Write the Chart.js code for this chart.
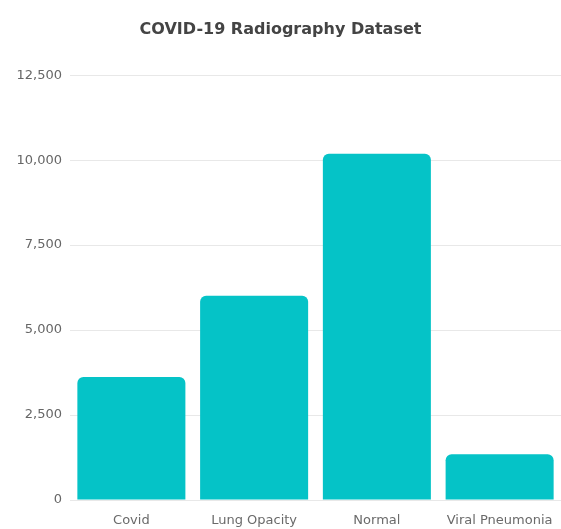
<!DOCTYPE html>
<html>
<head>
<meta charset="utf-8">
<script src="https://cdn.jsdelivr.net/npm/chart.js@4/dist/chart.umd.min.js"></script>
<style>
  html, body { margin: 0; padding: 0; background: #ffffff; }
  #wrap { width: 561px; height: 529px; position: relative; }
</style>
</head>
<body>
<div id="wrap"><canvas id="c"></canvas></div>
<script>
// Image counts per class
const categories = ["Covid", "Lung Opacity", "Normal", "Viral Pneumonia"];
const imageCounts = [3616, 6012, 10192, 1345];
const yTicks = [0, 2500, 5000, 7500, 10000, 12500];

const barColor = "#05C3C7";
const tickFont = { family: "'DejaVu Sans', sans-serif", size: 13 };

new Chart(document.getElementById("c"), {
  type: "bar",
  data: {
    labels: categories,
    datasets: [{
      data: imageCounts,
      backgroundColor: barColor,
      borderRadius: { topLeft: 6, topRight: 6, bottomLeft: 0, bottomRight: 0 },
      borderSkipped: "bottom",
      barPercentage: 0.88,
      categoryPercentage: 1.0
    }]
  },
  options: {
    responsive: true,
    maintainAspectRatio: false,
    animation: false,
    layout: { padding: { left: 0, right: 0, top: 0, bottom: 0 } },
    plugins: {
      legend: { display: false },
      tooltip: { enabled: false },
      title: {
        display: true,
        text: "COVID-19 Radiography Dataset",
        color: "#444444",
        font: { family: "'DejaVu Sans', sans-serif", size: 16, weight: "bold", lineHeight: 1.2 },
        padding: { top: 20, bottom: 36 }
      }
    },
    scales: {
      x: {
        grid: { display: false },
        border: { display: false },
        afterFit: (scale) => { scale.height = 29; },
        ticks: {
          color: "#6a6a6a",
          font: tickFont,
          maxRotation: 0,
          autoSkip: false,
          padding: 5
        }
      },
      y: {
        min: yTicks[0],
        max: yTicks[yTicks.length - 1],
        afterBuildTicks: (scale) => { scale.ticks = yTicks.map(v => ({ value: v })); },
        afterFit: (scale) => { scale.width = 70; },
        grid: { color: "#e8e8e8", drawTicks: false, lineWidth: 1 },
        border: { display: false },
        ticks: {
          color: "#666666",
          font: tickFont,
          padding: 8,
          callback: (v) => v.toLocaleString("en-US")
        }
      }
    }
  }
});
</script>
</body>
</html>
